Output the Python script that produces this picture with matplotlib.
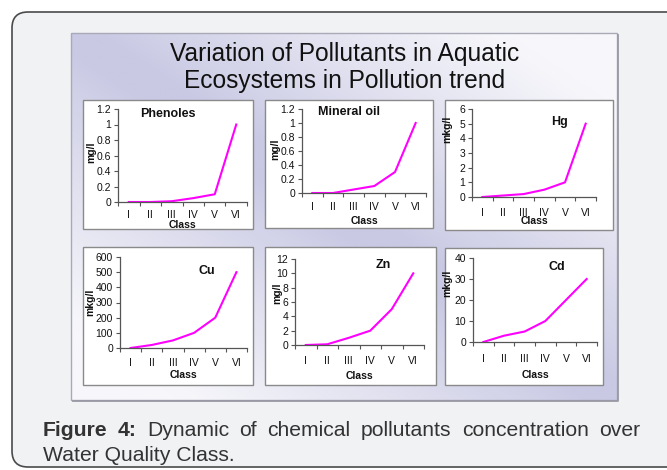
import matplotlib
matplotlib.use('Agg')
import matplotlib.pyplot as plt
import numpy as np
from matplotlib import font_manager
from matplotlib.patches import FancyBboxPatch, Rectangle
from matplotlib.colors import to_rgb

W, H, DPI = 667, 470, 100

# ---------------- data ----------------
classes = ['I', 'II', 'III', 'IV', 'V', 'VI']
phenoles = [0, 0, 0.01, 0.05, 0.1, 1.0]
mineral_oil = [0, 0, 0.05, 0.1, 0.3, 1.0]
hg = [0, 0.1, 0.2, 0.5, 1.0, 5.0]
cu = [0, 20, 50, 100, 200, 500]
zn = [0, 0.1, 1, 2, 5, 10]
cd = [0, 3, 5, 10, 20, 30]

panel_titles = ['Phenoles', 'Mineral oil', 'Hg', 'Cu', 'Zn', 'Cd']
units = ['mg/l', 'mg/l', 'mkg/l', 'mkg/l', 'mg/l', 'mkg/l']
y_max = [1.2, 1.2, 6, 600, 12, 40]
y_step = [0.2, 0.2, 1, 100, 2, 10]
series = [phenoles, mineral_oil, hg, cu, zn, cd]

main_title = ['Variation of Pollutants in Aquatic', 'Ecosystems in Pollution trend']
caption_bold = 'Figure 4:'
caption_line1 = 'Dynamic of chemical pollutants concentration over'
caption_line2 = 'Water Quality Class.'

# ---------------- fonts ----------------
def has_font(name):
    try:
        font_manager.findfont(font_manager.FontProperties(family=name), fallback_to_default=False)
        return True
    except Exception:
        return False

FONT = 'Liberation Sans' if has_font('Liberation Sans') else 'DejaVu Sans'
NARROW = 'Liberation Sans Narrow' if has_font('Liberation Sans Narrow') else FONT
plt.rcParams['font.family'] = [FONT, 'DejaVu Sans']

# ---------------- layout (pixels) ----------------
boxes = [(83, 100, 253, 229), (265, 100, 433, 228), (445, 100, 613, 230),
         (83, 247, 253, 385), (265, 247, 436, 385), (445, 248, 603, 385)]
axes_px = [(118, 109, 247, 202), (302, 109, 426, 193), (472, 109, 596, 197),
           (120, 257, 247, 348), (295, 259, 424, 345), (473, 258, 597, 342)]
title_pos = [(168, 114), (349, 112), (559, 122), (207, 271), (383, 265), (557, 267)]
class_dy = [23, 28, 24, 27, 31, 33]
tick_dy = [12, 13, 15, 15, 15, 17]
ylab_pos = [(91, 152), (275, 149), (447, 129), (90, 302), (277, 293), (447, 283)]


def frect(x0, y0, x1, y1):
    return [x0 / W, 1 - y1 / H, (x1 - x0) / W, (y1 - y0) / H]


def fpt(x, y):
    return x / W, 1 - y / H


fig = plt.figure(figsize=(W / DPI, H / DPI), dpi=DPI, facecolor='white')

# background axes in pixel coordinates
bg = fig.add_axes([0, 0, 1, 1])
bg.set_xlim(0, W)
bg.set_ylim(H, 0)
bg.axis('off')

outer = FancyBboxPatch((12, 12), 700, 455, boxstyle='round,pad=0,rounding_size=16',
                       facecolor='#F1F2F4', edgecolor='#4a4a4a', linewidth=1.2)
bg.add_patch(outer)

# gradient panel
px0, py0, px1, py1 = 71, 33, 617, 400
nx, ny = 300, 200
u = np.linspace(0, 1, nx)[None, :]
v = np.linspace(0, 1, ny)[:, None]
w = np.clip((u - v - 0.05) / 0.75, 0, 1) + np.clip((v - u - 0.05) / 0.75, 0, 1)
w = np.clip(w, 0, 1) ** 0.9
lav = np.array(to_rgb('#C9C9E4'))
wht = np.array(to_rgb('#F7F7FB'))
img = lav[None, None, :] * (1 - w[..., None]) + wht[None, None, :] * w[..., None]
bg.imshow(img, extent=(px0, px1, py1, py0), aspect='auto', interpolation='bilinear', zorder=1)
bg.add_patch(Rectangle((px0, py0), px1 - px0, py1 - py0, fill=False,
                       edgecolor='#A9A9B8', linewidth=1, zorder=2))
bg.plot([px1 + 1, px1 + 1, px0 + 2], [py0 + 2, py1 + 1, py1 + 1], color='#9a9aa6', lw=1.3, zorder=2)

for (x0, y0, x1, y1) in boxes:
    bg.add_patch(Rectangle((x0, y0), x1 - x0, y1 - y0, facecolor='white',
                           edgecolor='#8a8a8a', linewidth=1, zorder=3))

# ---------------- main title ----------------
renderer = fig.canvas.get_renderer()


def fit_text(x, y, s, target_w, weight='normal', ha='center', color='#111111', family=None):
    fam = [family or FONT, 'DejaVu Sans']
    t = fig.text(*fpt(x, y), s, fontsize=14, ha=ha, va='baseline', weight=weight, color=color,
                 family=fam)
    wpx = t.get_window_extent(renderer).width
    t.set_fontsize(14 * target_w / wpx)
    return t

t1 = fit_text(345, 61, main_title[0], 352, family=NARROW)
fs_title = t1.get_fontsize()
fig.text(*fpt(345, 88), main_title[1], fontsize=fs_title, ha='center', va='baseline',
         color='#111111', family=[NARROW, 'DejaVu Sans'])

# ---------------- subplots ----------------
x = np.arange(len(classes))
for i in range(6):
    ax = fig.add_axes(frect(*axes_px[i]))
    ax.set_facecolor('none')
    ax.plot(x, series[i], color='#FF00FF', lw=1.5, solid_joinstyle='round')
    ax.set_xlim(-0.5, 5.5)
    ax.set_ylim(0, y_max[i])
    for s in ['top', 'right']:
        ax.spines[s].set_visible(False)
    for s in ['left', 'bottom']:
        ax.spines[s].set_color('#555555')
        ax.spines[s].set_linewidth(0.9)
    ax.set_xticks(x)
    ax.set_xticklabels(classes)
    ax.set_xticks(np.arange(-0.5, 6, 1), minor=True)
    ax.tick_params(axis='x', which='major', length=0, pad=(tick_dy[i] - 4.5) * 0.72,
                   labelsize=7.5, labelcolor='#111111')
    ax.tick_params(axis='x', which='minor', length=3, width=0.8, color='#555555', direction='out')
    yt = np.arange(0, y_max[i] + y_step[i] / 2, y_step[i])
    ax.set_yticks(yt)
    ax.set_yticklabels(['{:g}'.format(round(t, 6)) for t in yt])
    ax.tick_params(axis='y', length=3, width=0.8, color='#555555', direction='out', pad=2,
                   labelsize=7.5, labelcolor='#111111')

    ax0, ay0, ax1, ay1 = axes_px[i]
    fig.text(*fpt(*title_pos[i]), panel_titles[i], fontsize=9, weight='bold',
             ha='center', va='center', color='#111111')
    fig.text(*fpt((ax0 + ax1) / 2, ay1 + class_dy[i]), 'Class', fontsize=7.5, weight='bold',
             ha='center', va='center', color='#111111')
    fig.text(*fpt(*ylab_pos[i]), units[i], fontsize=7.5, weight='bold', rotation=90,
             ha='center', va='center', color='#111111')

# ---------------- caption ----------------
cap_color = '#333333'
c2 = fit_text(43, 461, caption_line2, 193, ha='left', color=cap_color, family=NARROW)
fs_cap = c2.get_fontsize()

words = [(caption_bold.split()[0], 'bold'), (caption_bold.split()[1], 'bold')] + \
        [(wd, 'normal') for wd in caption_line1.split()]
left, right = 43, 640
texts = []
total = 0
for wd, wt in words:
    t = fig.text(*fpt(0, 436), wd, fontsize=fs_cap, weight=wt, ha='left', va='baseline',
                 color=cap_color, family=[NARROW, 'DejaVu Sans'])
    wpx = t.get_window_extent(renderer).width
    texts.append((t, wpx))
    total += wpx
gap = (right - left - total) / (len(words) - 1)
xpos = left
for t, wpx in texts:
    t.set_position(fpt(xpos, 436))
    xpos += wpx + gap

fig.savefig('out.png', dpi=DPI, facecolor='white')
